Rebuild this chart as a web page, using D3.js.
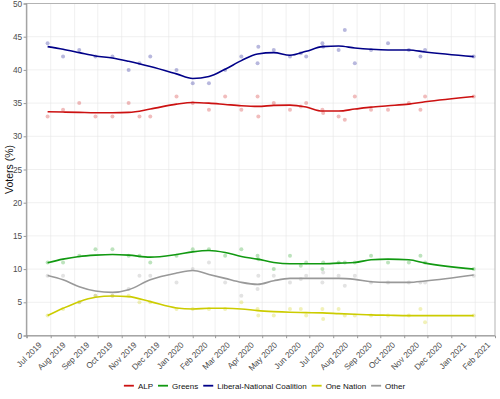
<!DOCTYPE html>
<html>
<head>
<script src="https://cdn.jsdelivr.net/npm/d3@7"></script>
<style>
  body { margin: 0; background: #fff; overflow: hidden; }
  text { font-family: "Liberation Sans", Arial, sans-serif; }
</style>
</head>
<body>
<svg width="500" height="399"></svg>
<script>
// poll results, one entry per poll
const pollDates = ["2019-07-28","2019-08-17","2019-09-07","2019-09-28","2019-10-20","2019-11-10","2019-11-24","2019-12-08",
  "2020-01-11","2020-02-01","2020-02-22","2020-03-14","2020-04-04","2020-04-25","2020-04-26","2020-05-16","2020-06-06",
  "2020-06-20","2020-06-27","2020-07-18","2020-07-19","2020-08-08","2020-08-16","2020-08-29","2020-09-19","2020-10-11",
  "2020-11-07","2020-11-22","2020-11-28","2021-01-30"];
const alp       = [33,34,35,33,33,35,33,33,36,35,34,36,34,36,33,35,34,34.5,35,34,33.5,33,32.5,36,34,34,35,34,36,36];
const greens    = [11,11,12,13,13,12,12,11,12,13,13,12,13,12,11.5,10,12,10.5,11,10,11,11,11,11,12,11,11,12,11,10];
const coalition = [44,42,43,42,42,40,41,42,40,38,38,40,42,41,43.5,43,42,42.5,42,44,43.5,43,46,41,43,44,43,42,43,42];
const oneNation = [3,4,5,6,6,6,5,5,4,4,4,4,5,4,3,3,4,4,3,4,2.5,4,3,3,3,3,3,4,2,3];
const other     = [9,9,5,6,6,7,9,9,8,10,11,8,6,7,9,9,8,8.5,9,8,9.5,9,7.5,9,8,8,8,8,8,9];

// smoothed trend
const trendDates = ["2019-07-28","2019-08-17","2019-09-07","2019-09-28","2019-10-20","2019-11-10","2019-12-08","2020-01-11",
  "2020-02-01","2020-02-22","2020-03-14","2020-04-04","2020-04-25","2020-05-16","2020-06-06","2020-06-27","2020-07-18",
  "2020-08-08","2020-08-29","2020-09-19","2020-10-11","2020-11-07","2020-11-28","2021-01-30"];
const alpTrend       = [33.7,33.65,33.6,33.55,33.55,33.6,34.1,34.85,35.1,35.0,34.8,34.6,34.5,34.65,34.7,34.4,33.8,33.8,34.1,34.4,34.6,34.85,35.2,36.0];
const greensTrend    = [10.95,11.5,11.9,12.1,12.2,12.1,11.8,12.2,12.6,12.8,12.5,11.9,11.5,11.0,10.8,10.8,10.8,10.9,11.0,11.4,11.5,11.4,10.9,10.0];
const coalitionTrend = [43.5,43.1,42.6,42.1,41.8,41.3,40.5,39.4,38.7,39.0,40.1,41.4,42.4,42.6,42.2,42.8,43.5,43.6,43.3,43.1,43.0,43.0,42.7,42.0];
const oneNationTrend = [3.0,4.1,5.1,5.75,5.95,5.85,5.1,4.15,4.0,4.1,4.1,4.0,3.75,3.6,3.5,3.45,3.4,3.3,3.2,3.1,3.05,3.0,3.0,3.0];
const otherTrend     = [9.05,8.4,7.35,6.7,6.5,6.9,8.4,9.4,9.8,9.2,8.6,8.0,7.7,8.25,8.6,8.6,8.6,8.6,8.45,8.1,8.0,8.0,8.2,9.1];

const parties = ["ALP","Greens","Liberal-National Coalition","One Nation","Other"];
const colors  = ["#cc1111","#119911","#000088","#cccc00","#999999"];
const yTicks  = [0,5,10,15,20,25,30,35,40,45,50];

const series = [
  {name: parties[0], color: colors[0], polls: alp, trend: alpTrend},
  {name: parties[1], color: colors[1], polls: greens, trend: greensTrend},
  {name: parties[2], color: colors[2], polls: coalition, trend: coalitionTrend},
  {name: parties[3], color: colors[3], polls: oneNation, trend: oneNationTrend},
  {name: parties[4], color: colors[4], polls: other, trend: otherTrend}
];

const svg = d3.select("svg");
const margin = {top: 3.5, right: 5, bottom: 63.5, left: 26.3};
const W = 500, H = 399;
const parse = d3.timeParse("%Y-%m-%d");
const pd = pollDates.map(parse);
const td = trendDates.map(parse);

// ggplot style 5% expansion of the date range
const ext = d3.extent(pd);
const pad = (ext[1] - ext[0]) * 0.05;
const x = d3.scaleTime()
  .domain([new Date(+ext[0] - pad), new Date(+ext[1] + pad)])
  .range([margin.left, W - margin.right]);
const y = d3.scaleLinear().domain([0, 50]).range([H - margin.bottom, margin.top]);

const months = d3.timeMonth.range(d3.timeMonth.ceil(x.domain()[0]), x.domain()[1]);

// grid
const grid = svg.append("g");
grid.selectAll(".hg").data(yTicks).enter().append("line")
  .attr("x1", margin.left).attr("x2", W - margin.right)
  .attr("y1", d => y(d)).attr("y2", d => y(d))
  .attr("stroke", "#e6e6e6").attr("stroke-width", 0.6);
grid.selectAll(".vg").data(months).enter().append("line")
  .attr("x1", d => x(d)).attr("x2", d => x(d))
  .attr("y1", margin.top).attr("y2", H - margin.bottom)
  .attr("stroke", "#e6e6e6").attr("stroke-width", 0.6);

// poll points
series.forEach(s => {
  svg.append("g").selectAll("circle")
    .data(s.polls).enter().append("circle")
    .attr("cx", (d, i) => x(pd[i]))
    .attr("cy", d => y(d))
    .attr("r", 2)
    .attr("fill", s.color)
    .attr("fill-opacity", 0.28);
});

// trend lines
const line = d3.line()
  .x((d, i) => x(td[i]))
  .y(d => y(d))
  .curve(d3.curveMonotoneX);
series.forEach(s => {
  svg.append("path")
    .attr("d", line(s.trend))
    .attr("fill", "none")
    .attr("stroke", s.color)
    .attr("stroke-width", 1.6);
});

// panel border
svg.append("rect")
  .attr("x", margin.left).attr("y", margin.top)
  .attr("width", W - margin.right - margin.left)
  .attr("height", H - margin.bottom - margin.top)
  .attr("fill", "none").attr("stroke", "#b3b3b3").attr("stroke-width", 1);

// axes
const yAxis = svg.append("g")
  .attr("transform", `translate(${margin.left},0)`)
  .call(d3.axisLeft(y).tickValues(yTicks).tickSize(2.7).tickPadding(1.5));
const xAxis = svg.append("g")
  .attr("transform", `translate(0,${H - margin.bottom})`)
  .call(d3.axisBottom(x).tickValues(months).tickSize(2.7).tickFormat(d3.timeFormat("%b %Y")));

[xAxis, yAxis].forEach(a => {
  a.select(".domain").attr("stroke", "#999");
  a.selectAll(".tick line").attr("stroke", "#999");
  a.selectAll("text").attr("fill", "#4d4d4d").style("font-size", "8.3px")
    .style("font-family", '"Liberation Sans", Arial, sans-serif');
});
xAxis.selectAll("text")
  .attr("y", 0).attr("dy", 0)
  .attr("text-anchor", "end")
  .attr("transform", "translate(15,10) rotate(-45)");

// y title
svg.append("text")
  .attr("transform", `translate(12.5,${(margin.top + H - margin.bottom) / 2}) rotate(-90)`)
  .attr("text-anchor", "middle")
  .style("font-size", "10.5px")
  .attr("fill", "#111")
  .text("Voters (%)");

// legend
const legend = svg.append("g");
let lx = 0;
series.forEach(s => {
  const g = legend.append("g").attr("transform", `translate(${lx},0)`);
  g.append("line").attr("x1", 0).attr("x2", 10).attr("y1", 0).attr("y2", 0)
    .attr("stroke", s.color).attr("stroke-width", 1.8);
  const t = g.append("text").attr("x", 14).attr("y", 3).style("font-size", "8px")
    .attr("fill", "#111").text(s.name);
  lx += 14 + t.node().getComputedTextLength() + 5;
});
const legendW = lx - 5;
legend.attr("transform", `translate(${264.5 - legendW / 2},385.7)`);
</script>
</body>
</html>
